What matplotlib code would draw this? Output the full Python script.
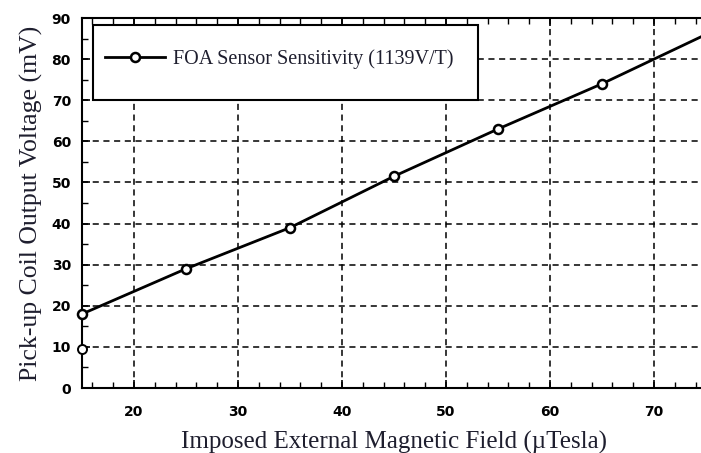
import matplotlib.pyplot as plt
from matplotlib.patches import Rectangle
from matplotlib.ticker import MultipleLocator

field = [15, 25, 35, 45, 55, 65, 75]
voltage = [18, 29, 39, 51.5, 63, 74, 86]
stray_x = [15]
stray_y = [9.5]

text_color = '#1e1e2e'

fig = plt.figure(figsize=(7.01, 4.53), dpi=100)
ax = fig.add_axes([82 / 701, 1 - 388 / 453, 624 / 701, 370 / 453])

ax.plot(field, voltage, color='black', lw=2, marker='o', ms=6.5,
        mfc='white', mec='black', mew=1.8, markevery=range(6),
        label='FOA Sensor Sensitivity (1139V/T)', clip_on=False, zorder=3)
ax.plot(stray_x, stray_y, ls='none', marker='o', ms=6.5, mfc='white',
        mec='black', mew=1.4, clip_on=False, zorder=3)

ax.set_xlim(15, 75)
ax.set_ylim(0, 90)
ax.xaxis.set_major_locator(MultipleLocator(10))
ax.xaxis.set_minor_locator(MultipleLocator(2))
ax.yaxis.set_major_locator(MultipleLocator(10))
ax.yaxis.set_minor_locator(MultipleLocator(5))
ax.tick_params(which='both', direction='in', top=True, right=False)
ax.tick_params(which='major', length=6, width=1.2, labelsize=10, pad=8)
ax.tick_params(axis='x', which='major', pad=12)
ax.tick_params(which='minor', length=4, width=1)
ax.set_xticks([20, 30, 40, 50, 60, 70])
for lab in ax.get_xticklabels() + ax.get_yticklabels():
    lab.set_fontweight('heavy')

ax.grid(True, which='major', color='black', ls=(0, (4, 3)), lw=1.1)
for s in ['left', 'bottom', 'top']:
    ax.spines[s].set_linewidth(1.5)
ax.spines['right'].set_visible(False)

ax.set_xlabel('Imposed External Magnetic Field (\u00b5Tesla)', family='Liberation Serif',
              fontsize=18, color=text_color, labelpad=9)
ax.set_ylabel('Pick-up Coil Output Voltage (mV)', family='Liberation Serif',
              fontsize=18.5, color=text_color, labelpad=6)

# legend box is taller than matplotlib's default frame, so draw it separately
box = Rectangle((0.0176, 0.778), 0.617, 0.203, transform=ax.transAxes,
                facecolor='white', edgecolor='black', lw=1.5, zorder=4)
ax.add_patch(box)
leg = ax.legend(loc='center left', bbox_to_anchor=(0.0176, 0.89),
                prop={'family': 'Liberation Serif', 'size': 14.5},
                frameon=False, borderpad=0.6, handlelength=3.0,
                handletextpad=0.35, borderaxespad=0)
for t in leg.get_texts():
    t.set_color(text_color)
leg.set_zorder(5)

fig.savefig('out.png', dpi=100)
